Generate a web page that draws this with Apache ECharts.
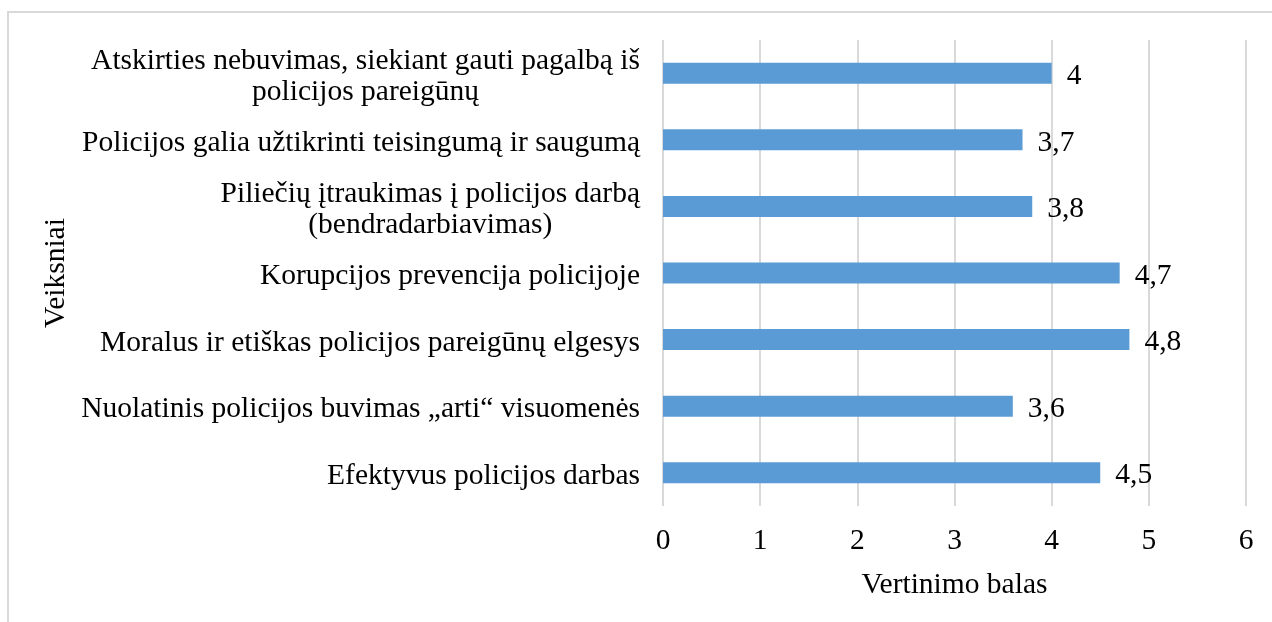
<!DOCTYPE html>
<html>
<head>
<meta charset="utf-8">
<script src="https://cdn.jsdelivr.net/npm/echarts@6/dist/echarts.min.js"></script>
<style>html,body{margin:0;padding:0;background:#fff;}#c{width:1272px;height:622px;}</style>
</head>
<body>
<div id="c"></div>
<script>
const categories = [
  "Atskirties nebuvimas, siekiant gauti pagalbą iš\npolicijos pareigūnų",
  "Policijos galia užtikrinti teisingumą ir saugumą",
  "Piliečių įtraukimas į policijos darbą\n(bendradarbiavimas)",
  "Korupcijos prevencija policijoje",
  "Moralus ir etiškas policijos pareigūnų elgesys",
  "Nuolatinis policijos buvimas „arti“ visuomenės",
  "Efektyvus policijos darbas"
];
const values = [4, 3.7, 3.8, 4.7, 4.8, 3.6, 4.5];
const xTicks = { min: 0, max: 6, interval: 1 };
const xAxisTitle = "Vertinimo balas";
const yAxisTitle = "Veiksniai";

const font = "'Liberation Serif', 'Times New Roman', serif";
const fs = 29.5;
const chart = echarts.init(document.getElementById('c'), null, { renderer: 'canvas' });
chart.setOption({
  animation: false,
  backgroundColor: '#fff',
  graphic: [{
    type: 'rect',
    shape: { x: 8, y: 12, width: 1400, height: 800 },
    style: { fill: 'none', stroke: '#d9d9d9', lineWidth: 2 },
    silent: true, z: -1
  }],
  grid: { left: 663, right: 26, top: 40, bottom: 116, containLabel: false },
  xAxis: {
    type: 'value',
    min: xTicks.min, max: xTicks.max, interval: xTicks.interval,
    name: xAxisTitle,
    nameLocation: 'middle',
    nameGap: 64,
    nameTextStyle: { fontFamily: font, fontSize: fs, color: '#000' },
    axisLine: { show: false },
    axisTick: { show: false },
    axisLabel: { fontFamily: font, fontSize: fs, color: '#000', margin: 20 },
    splitLine: { show: true, lineStyle: { color: '#d9d9d9', width: 2 } }
  },
  yAxis: {
    type: 'category',
    data: categories,
    inverse: true,
    name: yAxisTitle,
    nameLocation: 'middle',
    nameGap: 592,
    nameRotate: 90,
    nameTextStyle: { fontFamily: font, fontSize: fs, color: '#000' },
    axisLine: { show: false },
    axisTick: { show: false },
    splitLine: { show: false },
    axisLabel: {
      margin: 23,
      fontFamily: font, fontSize: fs, color: '#000', lineHeight: 31,
      padding: [7, 0, 0, 0],
      formatter: function (v) {
        return v.split('\n').map(function (l) { return '{c|' + l + '}'; }).join('\n');
      },
      rich: { c: { align: 'center', fontFamily: font, fontSize: fs, color: '#000', lineHeight: 31 } }
    }
  },
  series: [{
    type: 'bar',
    data: values,
    barWidth: 21,
    itemStyle: { color: '#5b9bd5' },
    label: {
      show: true,
      position: 'right',
      distance: 15,
      offset: [0, 3],
      fontFamily: font, fontSize: fs, color: '#000',
      formatter: function (p) { return String(p.value).replace('.', ','); }
    }
  }]
});
</script>
</body>
</html>
